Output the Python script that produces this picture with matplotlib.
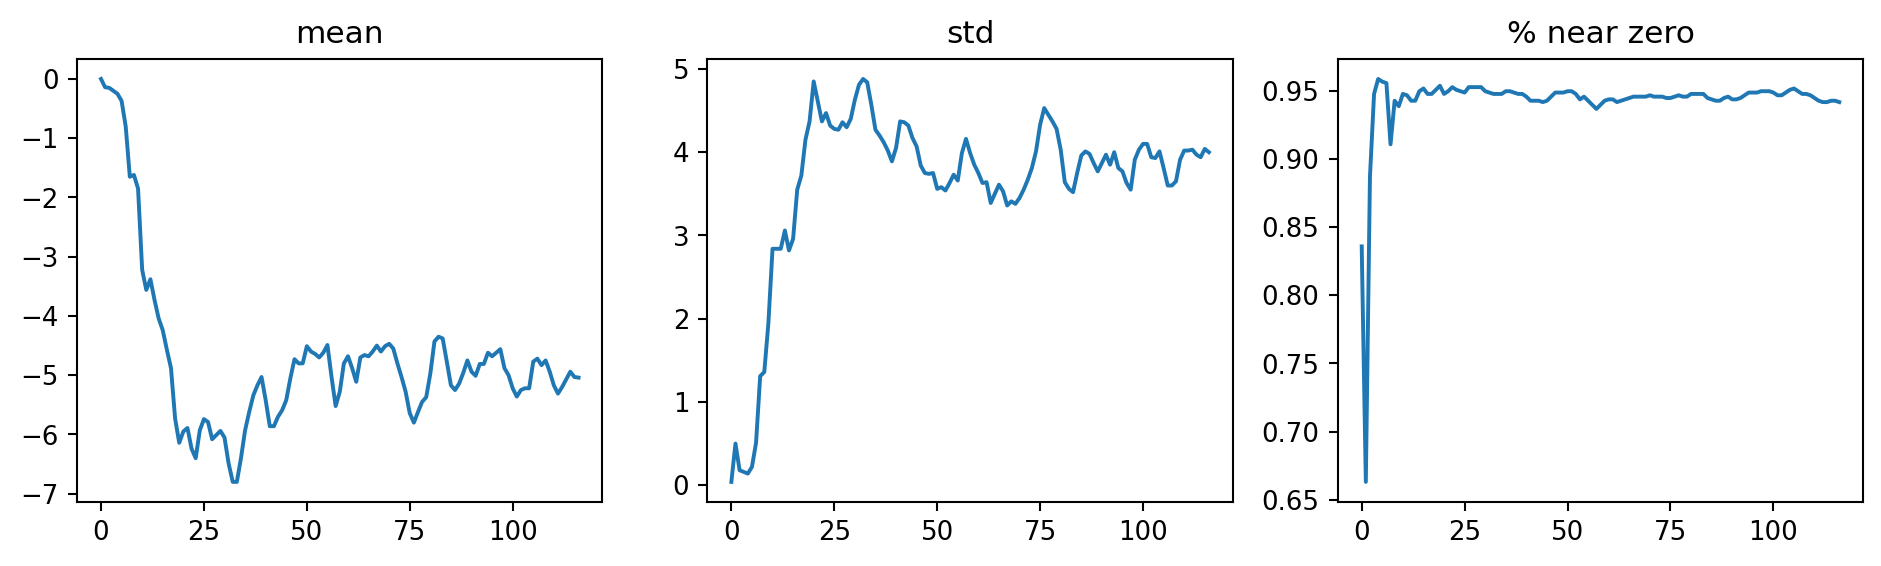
import matplotlib
matplotlib.use("Agg")
import matplotlib.pyplot as plt
import matplotlib.ticker as ticker
import numpy as np

# per-step statistics
mean_vals = [
    0.0, -0.14, -0.15, -0.2, -0.25, -0.37, -0.8, -1.65, -1.62, -1.85,
    -3.22, -3.56, -3.38, -3.73, -4.04, -4.24, -4.57, -4.88, -5.73, -6.14,
    -5.95, -5.89, -6.24, -6.4, -5.93, -5.74, -5.79, -6.08, -6.01, -5.94,
    -6.05, -6.49, -6.8, -6.8, -6.4, -5.93, -5.62, -5.34, -5.17, -5.03,
    -5.42, -5.86, -5.86, -5.7, -5.59, -5.42, -5.05, -4.73, -4.8, -4.8,
    -4.51, -4.6, -4.64, -4.7, -4.62, -4.49, -5.03, -5.52, -5.28, -4.8,
    -4.68, -4.88, -5.11, -4.7, -4.66, -4.68, -4.6, -4.5, -4.6, -4.51,
    -4.47, -4.55, -4.8, -5.03, -5.28, -5.64, -5.8, -5.62, -5.45, -5.37,
    -4.97, -4.43, -4.35, -4.38, -4.77, -5.17, -5.25, -5.14, -4.96, -4.75,
    -4.94, -5.01, -4.81, -4.81, -4.62, -4.68, -4.62, -4.56, -4.88, -5.0,
    -5.22, -5.36, -5.25, -5.22, -5.22, -4.77, -4.72, -4.83, -4.75, -4.94,
    -5.17, -5.31, -5.2, -5.07, -4.94, -5.03, -5.04,
]

std_vals = [
    0.04, 0.5, 0.18, 0.16, 0.14, 0.22, 0.51, 1.31, 1.36, 1.95,
    2.84, 2.84, 2.84, 3.06, 2.82, 2.96, 3.55, 3.72, 4.15, 4.37,
    4.85, 4.61, 4.37, 4.47, 4.32, 4.28, 4.27, 4.36, 4.3, 4.4,
    4.63, 4.81, 4.88, 4.84, 4.57, 4.27, 4.2, 4.12, 4.02, 3.89,
    4.05, 4.37, 4.36, 4.32, 4.17, 4.07, 3.84, 3.75, 3.74, 3.75,
    3.56, 3.58, 3.54, 3.63, 3.73, 3.66, 3.99, 4.16, 3.99, 3.85,
    3.75, 3.63, 3.64, 3.39, 3.5, 3.61, 3.53, 3.36, 3.41, 3.38,
    3.45, 3.55, 3.67, 3.81, 4.01, 4.33, 4.53, 4.45, 4.37, 4.28,
    4.03, 3.64, 3.56, 3.52, 3.75, 3.96, 4.01, 3.98, 3.87, 3.77,
    3.87, 3.97, 3.85, 4.0, 3.81, 3.77, 3.63, 3.55, 3.91, 4.03,
    4.1, 4.1, 3.94, 3.93, 4.01, 3.81, 3.6, 3.6, 3.65, 3.91,
    4.02, 4.02, 4.03, 3.97, 3.94, 4.04, 4.0,
]

near_zero_vals = [
    0.836, 0.663, 0.887, 0.948, 0.959, 0.957, 0.956, 0.911, 0.943, 0.939,
    0.948, 0.947, 0.943, 0.943, 0.95, 0.952, 0.948, 0.948, 0.951, 0.954,
    0.948, 0.95, 0.953, 0.951, 0.95, 0.949, 0.953, 0.953, 0.953, 0.953,
    0.95, 0.949, 0.948, 0.948, 0.948, 0.95, 0.95, 0.949, 0.948, 0.948,
    0.946, 0.943, 0.943, 0.943, 0.942, 0.943, 0.946, 0.949, 0.949, 0.949,
    0.95, 0.95, 0.948, 0.944, 0.946, 0.943, 0.94, 0.937, 0.94, 0.943,
    0.944, 0.944, 0.942, 0.943, 0.944, 0.945, 0.946, 0.946, 0.946, 0.946,
    0.947, 0.946, 0.946, 0.946, 0.945, 0.945, 0.946, 0.947, 0.946, 0.946,
    0.948, 0.948, 0.948, 0.948, 0.945, 0.944, 0.943, 0.943, 0.945, 0.946,
    0.944, 0.944, 0.945, 0.947, 0.949, 0.949, 0.949, 0.95, 0.95, 0.95,
    0.949, 0.947, 0.947, 0.949, 0.951, 0.952, 0.95, 0.948, 0.948, 0.947,
    0.945, 0.943, 0.942, 0.942, 0.943, 0.943, 0.942,
]

titles = ["mean", "std", "% near zero"]

fig, axes = plt.subplots(1, 3, figsize=(10.032, 3.019), dpi=187.5)
fig.subplots_adjust(left=0.041, right=0.9905, bottom=0.113, top=0.896, wspace=0.20)

for ax, vals, title in zip(axes, [mean_vals, std_vals, near_zero_vals], titles):
    ax.plot(np.arange(len(vals)), vals)
    ax.set_title(title)
    ax.xaxis.set_major_locator(ticker.MultipleLocator(25))

fig.savefig("out.png", dpi=187.5)
